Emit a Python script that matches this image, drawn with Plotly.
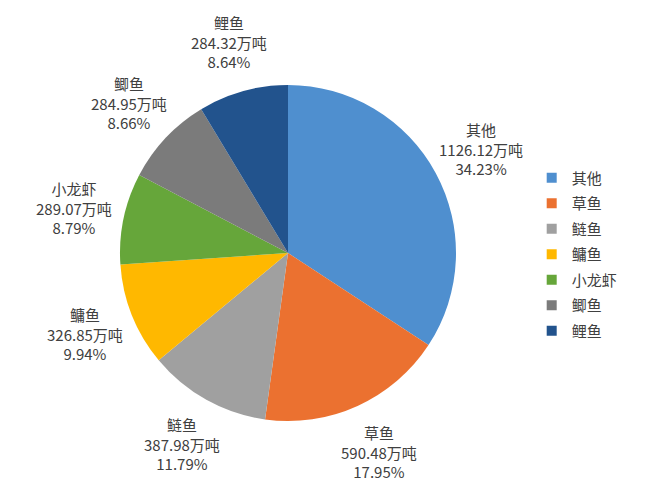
import math
import plotly.graph_objects as go

# 2020 freshwater aquaculture output by species (万吨)
species = ["其他", "草鱼", "鲢鱼", "鳙鱼", "小龙虾", "鲫鱼", "鲤鱼"]
output_wt = [1126.12, 590.48, 387.98, 326.85, 289.07, 284.95, 284.32]
colors = ["#4F8FCF", "#EB7130", "#A0A0A0", "#FFB800", "#66A63A", "#7B7B7B", "#22538D"]

FONT = "Noto Sans CJK SC, Noto Sans, sans-serif"
TEXT_COLOR = "#404040"
W, H = 650, 488

# pie placement in pixels (centre and radius) and label distance from centre
cx, cy, radius = 288, 253, 168
label_dist = 219

fig = go.Figure()

fig.add_trace(go.Pie(
    labels=species,
    values=output_wt,
    sort=False,
    direction="clockwise",
    rotation=0,
    marker=dict(colors=colors, line=dict(width=0)),
    textinfo="none",
    showlegend=False,
    domain=dict(x=[(cx - radius) / W, (cx + radius) / W],
                y=[1 - (cy + radius) / H, 1 - (cy - radius) / H]),
    hoverinfo="label+value+percent",
))

# outside data labels, placed radially at each slice's mid angle
total = sum(output_wt)
cum = 0
for name, val in zip(species, output_wt):
    mid = (cum + val / 2) / total * 2 * math.pi
    cum += val
    lx = cx + label_dist * math.sin(mid)
    ly = cy - label_dist * math.cos(mid)
    fig.add_annotation(
        x=lx / W, y=1 - ly / H, xref="paper", yref="paper",
        xanchor="center", yanchor="middle",
        text=f"{name}<br>{val:.2f}万吨<br>{val / total:.2%}",
        showarrow=False,
        font=dict(family=FONT, size=15, color=TEXT_COLOR),
    )

# legend entries (one group each so the rows can be spaced like the original)
for name, col in zip(species, colors):
    fig.add_trace(go.Scatter(
        x=[None], y=[None], mode="markers", name=name,
        legendgroup=name,
        marker=dict(symbol="square", size=10, color=col),
    ))

fig.update_layout(
    width=W,
    height=H,
    margin=dict(l=0, r=0, t=0, b=0),
    paper_bgcolor="white",
    plot_bgcolor="white",
    font=dict(family=FONT, color=TEXT_COLOR),
    xaxis=dict(visible=False),
    yaxis=dict(visible=False),
    showlegend=True,
    legend=dict(
        x=0.818, y=0.669, xanchor="left", yanchor="top",
        font=dict(family=FONT, size=15, color=TEXT_COLOR),
        itemwidth=30,
        traceorder="grouped",
        tracegroupgap=3,
        bgcolor="rgba(0,0,0,0)",
    ),
)

# drop the browser's default body margin so the figure sits at the page corner
fig.write_html(
    "out.html",
    config={"displayModeBar": False},
    post_script="document.body.style.margin = '0';",
)
